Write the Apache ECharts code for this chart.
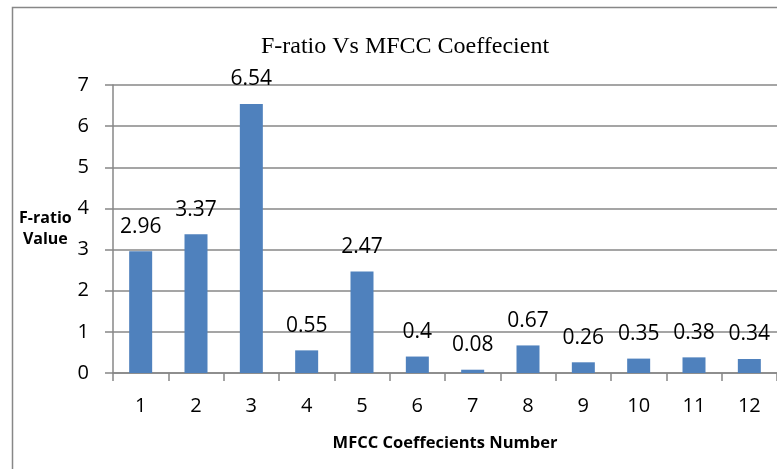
<!DOCTYPE html>
<html>
<head>
<meta charset="utf-8">
<script src="https://cdn.jsdelivr.net/npm/echarts@6/dist/echarts.min.js"></script>
<style>html,body{margin:0;padding:0;background:#fff;}#c{width:777px;height:469px;}</style>
</head>
<body>
<div id="c"></div>
<script>
const titleText = 'F-ratio Vs MFCC Coeffecient';
const xName = 'MFCC Coeffecients Number';
const yName = 'F-ratio\nValue';
const categories = ['1','2','3','4','5','6','7','8','9','10','11','12'];
const fRatio = [2.96, 3.37, 6.54, 0.55, 2.47, 0.4, 0.08, 0.67, 0.26, 0.35, 0.38, 0.34];
const yMin = 0, yMax = 7, yStep = 1;

const chart = echarts.init(document.getElementById('c'), null, {renderer: 'canvas'});
const gray = '#878787';
chart.setOption({
  animation: false,
  backgroundColor: '#fff',
  title: {
    text: titleText,
    left: 400, top: 30, textAlign: 'center',
    textStyle: {fontFamily: 'Liberation Serif', fontWeight: 'normal', fontSize: 24, color: '#000'}
  },
  graphic: [{
    type: 'rect', silent: true,
    shape: {x: 12.5, y: 7.5, width: 820, height: 520},
    style: {fill: 'none', stroke: gray, lineWidth: 1.5}
  }],
  grid: {left: 113, top: 85, width: 672, height: 288, containLabel: false},
  xAxis: {
    type: 'category', data: categories,
    name: xName, nameLocation: 'middle', nameGap: 62,
    nameTextStyle: {fontFamily: 'Open Sans', fontWeight: 'bold', fontSize: 16.5, color: '#000'},
    axisLine: {lineStyle: {color: gray, width: 1.5}},
    axisTick: {show: true, length: 8, lineStyle: {color: gray, width: 1.5}},
    axisLabel: {margin: 23, fontFamily: 'Open Sans', fontSize: 20, color: '#000'}
  },
  yAxis: {
    type: 'value', min: yMin, max: yMax, interval: yStep,
    name: yName, nameLocation: 'middle', nameRotate: 0, nameGap: 64,
    nameTextStyle: {fontFamily: 'Open Sans', fontWeight: 'bold', fontSize: 16, color: '#000', lineHeight: 21, align: 'center', padding: [0, 0, 24, 0]},
    axisLine: {show: true, lineStyle: {color: gray, width: 1.5}},
    axisTick: {show: true, length: 8, lineStyle: {color: gray, width: 1.5}},
    axisLabel: {margin: 24, fontFamily: 'Open Sans', fontSize: 20, color: '#000'},
    splitLine: {show: true, lineStyle: {color: gray, width: 1.5}}
  },
  series: [{
    type: 'bar', data: fRatio, barWidth: 23,
    itemStyle: {color: '#4F81BD'},
    label: {show: true, position: 'top', distance: 14, fontFamily: 'Open Sans', fontSize: 21, color: '#000'}
  }]
});
</script>
</body>
</html>
